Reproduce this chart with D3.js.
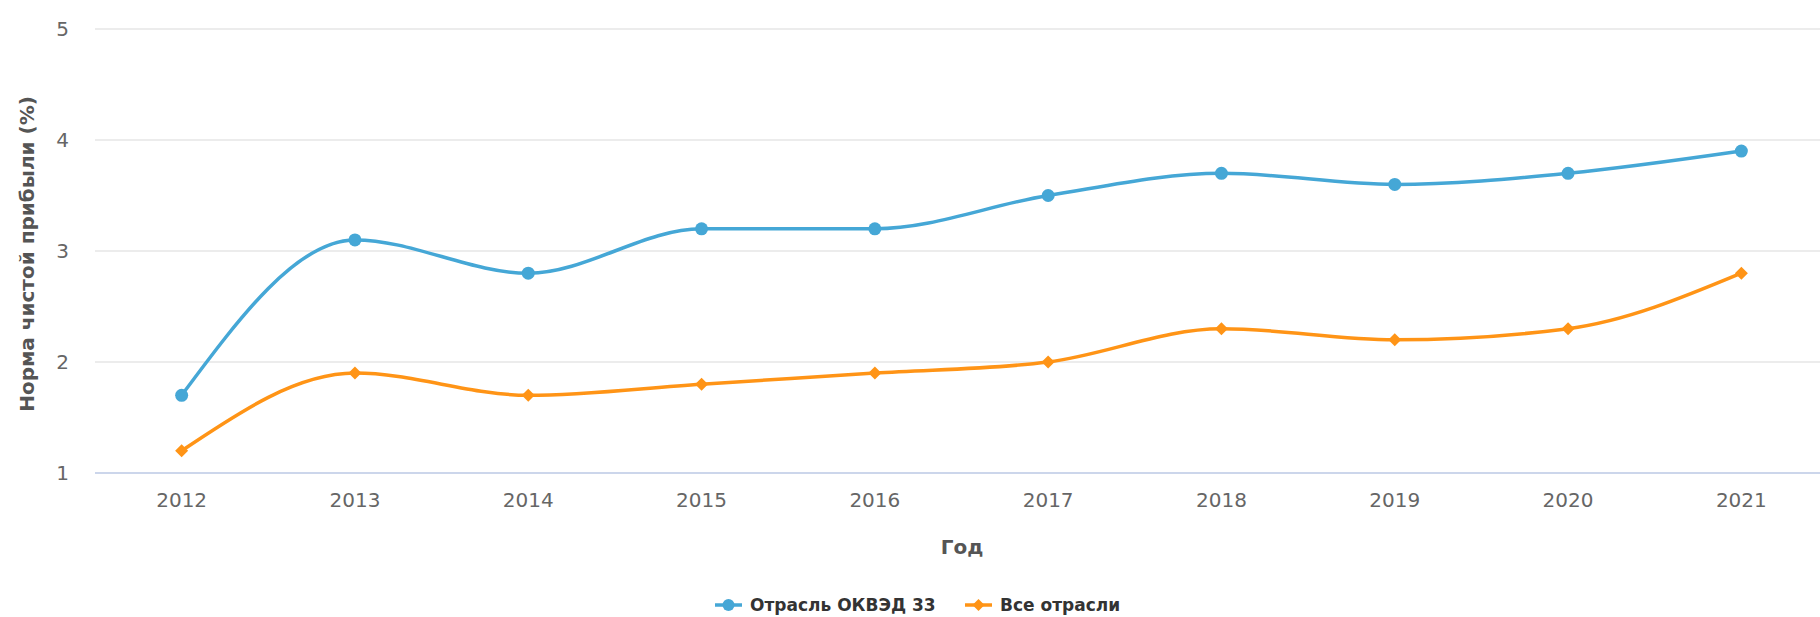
<!DOCTYPE html>
<html lang="ru">
<head>
    <meta charset="UTF-8">
    <script src="https://cdn.jsdelivr.net/npm/d3@7"></script>
    <title>Норма чистой прибыли</title>
    <style>
        body {
            margin: 0;
            background: #ffffff;
            font-family: "DejaVu Sans", Verdana, sans-serif;
        }
        .grid line { stroke: #e6e6e6; stroke-width: 1.5px; }
        .tick-label { fill: #666666; font-size: 20px; }
        .axis-title { fill: #555555; font-size: 20px; font-weight: bold; }
        .legend-text { fill: #333333; font-size: 17px; font-weight: bold; }
    </style>
</head>
<body>
    <svg id="chart"></svg>
    <script>
        const width = 1820;
        const height = 617;

        // data
        const years = ["2012", "2013", "2014", "2015", "2016", "2017", "2018", "2019", "2020", "2021"];
        const okved33 = [1.7, 3.1, 2.8, 3.2, 3.2, 3.5, 3.7, 3.6, 3.7, 3.9];
        const allIndustries = [1.2, 1.9, 1.7, 1.8, 1.9, 2.0, 2.3, 2.2, 2.3, 2.8];
        const yTicks = [1, 2, 3, 4, 5];

        const seriesNames = ["Отрасль ОКВЭД 33", "Все отрасли"];
        const colors = ["#45a7d6", "#ff9416"];

        const plot = { left: 95, right: 1828, top: 29, bottom: 473 };

        const svg = d3.select("#chart")
            .attr("width", width)
            .attr("height", height);

        const x = d3.scalePoint()
            .domain(years)
            .range([plot.left, plot.right])
            .padding(0.5);

        const y = d3.scaleLinear()
            .domain([1, 5])
            .range([plot.bottom, plot.top]);

        // gridlines
        svg.append("g").attr("class", "grid")
            .selectAll("line")
            .data(yTicks.filter(d => d !== 1))
            .enter().append("line")
            .attr("x1", plot.left).attr("x2", plot.right)
            .attr("y1", d => y(d)).attr("y2", d => y(d));

        // x axis line
        svg.append("line")
            .attr("x1", plot.left).attr("x2", plot.right)
            .attr("y1", y(1)).attr("y2", y(1))
            .attr("stroke", "#ccd6eb").attr("stroke-width", 2);

        // y tick labels
        svg.append("g").selectAll("text")
            .data(yTicks)
            .enter().append("text")
            .attr("class", "tick-label")
            .attr("x", 69)
            .attr("y", d => y(d))
            .attr("dy", "0.36em")
            .attr("text-anchor", "end")
            .text(d => d);

        // x tick labels
        svg.append("g").selectAll("text")
            .data(years)
            .enter().append("text")
            .attr("class", "tick-label")
            .attr("x", d => x(d))
            .attr("y", 507)
            .attr("text-anchor", "middle")
            .text(d => d);

        // axis titles
        svg.append("text")
            .attr("class", "axis-title")
            .attr("x", 962).attr("y", 554)
            .attr("text-anchor", "middle")
            .text("Год");

        svg.append("text")
            .attr("class", "axis-title")
            .attr("transform", "translate(34,254) rotate(-90)")
            .attr("text-anchor", "middle")
            .text("Норма чистой прибыли (%)");

        const line = d3.line()
            .x((d, i) => x(years[i]))
            .y(d => y(d))
            .curve(d3.curveMonotoneX);

        const diamond = s => `M0,${-s}L${s},0L0,${s}L${-s},0Z`;

        // lines
        [okved33, allIndustries].forEach((vals, k) => {
            svg.append("path")
                .datum(vals)
                .attr("d", line)
                .attr("fill", "none")
                .attr("stroke", colors[k])
                .attr("stroke-width", 3.5)
                .attr("stroke-linejoin", "round")
                .attr("stroke-linecap", "round");
        });

        // markers
        svg.append("g").selectAll("circle")
            .data(okved33)
            .enter().append("circle")
            .attr("cx", (d, i) => x(years[i]))
            .attr("cy", d => y(d))
            .attr("r", 6.5)
            .attr("fill", colors[0]);

        svg.append("g").selectAll("path")
            .data(allIndustries)
            .enter().append("path")
            .attr("d", diamond(6.5))
            .attr("transform", (d, i) => `translate(${x(years[i])},${y(d)})`)
            .attr("fill", colors[1]);

        // legend
        const legendItems = [
            { name: seriesNames[0], x: 715, marker: "circle" },
            { name: seriesNames[1], x: 965, marker: "diamond" }
        ];
        const legendY = 605;
        legendItems.forEach((item, k) => {
            const g = svg.append("g").attr("transform", `translate(${item.x},${legendY})`);
            g.append("line")
                .attr("x1", 0).attr("x2", 27)
                .attr("stroke", colors[k]).attr("stroke-width", 3.5);
            if (item.marker === "circle") {
                g.append("circle").attr("cx", 13.5).attr("r", 6).attr("fill", colors[k]);
            } else {
                g.append("path").attr("d", diamond(6)).attr("transform", "translate(13.5,0)").attr("fill", colors[k]);
            }
            g.append("text")
                .attr("class", "legend-text")
                .attr("x", 35)
                .attr("dy", "0.36em")
                .text(item.name);
        });
    </script>
</body>
</html>
